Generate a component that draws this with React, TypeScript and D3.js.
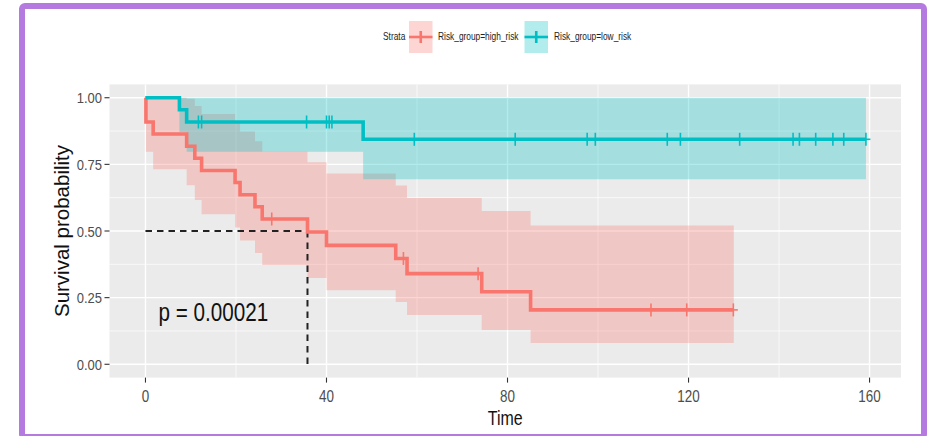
import React from "react";
import * as d3 from "d3";

const W = 935;
const H = 436;

// high risk group: step start times, KM estimate, 95% band
const HIGH_TIME = [0, 0.1, 1.7, 9.1, 10.9, 12.4, 19.8, 20.9, 24.2, 25.8, 35.8, 40.0, 55.3, 57.8, 74.3, 85.1];
const HIGH_SURV = [1, 0.909, 0.864, 0.818, 0.773, 0.727, 0.682, 0.636, 0.591, 0.545, 0.496, 0.446, 0.397, 0.34, 0.272, 0.204];
const HIGH_UPPER = [1, 1, 1, 0.996, 0.969, 0.939, 0.907, 0.873, 0.837, 0.798, 0.758, 0.716, 0.671, 0.624, 0.575, 0.521];
const HIGH_LOWER = [1, 0.797, 0.732, 0.672, 0.616, 0.563, 0.513, 0.464, 0.417, 0.372, 0.324, 0.278, 0.234, 0.185, 0.129, 0.08];
const HIGH_END = 130;
const HIGH_CENSOR = [27.9, 57.0, 73.5, 111.7, 119.6, 129.9];

// low risk group
const LOW_TIME = [0, 7.5, 9.1, 48.1];
const LOW_SURV = [1, 0.955, 0.909, 0.844];
const LOW_UPPER = [1, 1, 1, 1];
const LOW_LOWER = [1, 0.871, 0.797, 0.694];
const LOW_END = 159.2;
const LOW_CENSOR = [11.7, 12.4, 35.6, 40.0, 40.6, 41.2, 59.4, 81.7, 97.6, 99.4, 115.3, 118.2, 131.3, 143.1, 144.5, 148.1, 151.9, 154.3, 159.2];

const X_TICKS = [0, 40, 80, 120, 160];
const X_MINOR = [20, 60, 100, 140];
const Y_TICKS = [0, 0.25, 0.5, 0.75, 1];
const Y_MINOR = [0.125, 0.375, 0.625, 0.875];
const MEDIAN_HIGH = 35.8;
const P_LABEL = "p = 0.00021";
const STRATA = ["Risk_group=high_risk", "Risk_group=low_risk"];
const COLORS = ["#F8766D", "#00BFC4"];

const SANS = "'Liberation Sans', Arial, sans-serif";

const panel = { left: 109.5, right: 901, top: 84.4, bottom: 377.6 };

const x = d3.scaleLinear().domain([-7.95, 166.95]).range([panel.left, panel.right]);
const y = d3.scaleLinear().domain([-0.05, 1.05]).range([panel.bottom, panel.top]);

type Step = { t: number; s: number; lo: number; hi: number };

function buildSteps(times: number[], surv: number[], lo: number[], hi: number[], end: number): Step[] {
  const steps = times.map((t, i) => ({ t, s: surv[i], lo: lo[i], hi: hi[i] }));
  const last = steps[steps.length - 1];
  steps.push({ ...last, t: end });
  return steps;
}

function survAt(steps: Step[], t: number) {
  let s = steps[0].s;
  for (const st of steps) if (st.t <= t) s = st.s;
  return s;
}

const groups = [
  { steps: buildSteps(HIGH_TIME, HIGH_SURV, HIGH_LOWER, HIGH_UPPER, HIGH_END), censor: HIGH_CENSOR, color: COLORS[0] },
  { steps: buildSteps(LOW_TIME, LOW_SURV, LOW_LOWER, LOW_UPPER, LOW_END), censor: LOW_CENSOR, color: COLORS[1] },
];

const area = d3
  .area<Step>()
  .x((d) => x(d.t))
  .y0((d) => y(d.lo))
  .y1((d) => y(d.hi))
  .curve(d3.curveStepAfter);

const line = d3
  .line<Step>()
  .x((d) => x(d.t))
  .y((d) => y(d.s))
  .curve(d3.curveStepAfter);

function Cross({ cx, cy, color, w = 4.5, h = 6.5, sw = 1.6 }) {
  return (
    <g stroke={color} strokeWidth={sw}>
      <line x1={cx - w} x2={cx + w} y1={cy} y2={cy} />
      <line x1={cx} x2={cx} y1={cy - h} y2={cy + h} />
    </g>
  );
}

// the source image is squashed sideways, so text gets a horizontal squeeze
function Txt({ x: tx, y: ty, k = 0.8, size, anchor = "start", fill = "#111", children }) {
  return (
    <text
      transform={`translate(${tx},${ty}) scale(${k},1)`}
      textAnchor={anchor}
      fontFamily={SANS}
      fontSize={size}
      fill={fill}
    >
      {children}
    </text>
  );
}

export default function App() {
  const legendItems = [
    { box: 409, text: 438, label: STRATA[0], color: COLORS[0] },
    { box: 524.5, text: 554, label: STRATA[1], color: COLORS[1] },
  ];

  return (
    <svg width={W} height={H} style={{ position: "absolute", left: 0, top: 0, background: "#fff" }}>
      <rect x={22} y={6} width={902} height={431} rx={3} fill="#fff" stroke="#b47ae0" strokeWidth={6} />

      {/* legend */}
      <Txt x={383} y={40} k={0.82} size={10.2} fill="#222">
        Strata
      </Txt>
      {legendItems.map((d) => (
        <g key={d.label}>
          <rect x={d.box} y={21} width={23.5} height={32} fill={d.color} fillOpacity={0.3} />
          <Cross cx={d.box + 11.75} cy={37} color={d.color} w={11.75} h={6} sw={2.6} />
          <Txt x={d.text} y={40} k={0.82} size={10.2} fill="#222">
            {d.label}
          </Txt>
        </g>
      ))}

      {/* panel */}
      <rect x={panel.left} y={panel.top} width={panel.right - panel.left} height={panel.bottom - panel.top} fill="#EBEBEB" />
      {Y_MINOR.map((v) => (
        <line key={"ym" + v} x1={panel.left} x2={panel.right} y1={y(v)} y2={y(v)} stroke="#fff" strokeWidth={0.7} />
      ))}
      {X_MINOR.map((v) => (
        <line key={"xm" + v} x1={x(v)} x2={x(v)} y1={panel.top} y2={panel.bottom} stroke="#fff" strokeWidth={0.7} />
      ))}
      {Y_TICKS.map((v) => (
        <line key={"yg" + v} x1={panel.left} x2={panel.right} y1={y(v)} y2={y(v)} stroke="#fff" strokeWidth={1.4} />
      ))}
      {X_TICKS.map((v) => (
        <line key={"xg" + v} x1={x(v)} x2={x(v)} y1={panel.top} y2={panel.bottom} stroke="#fff" strokeWidth={1.4} />
      ))}

      {groups.map((g, i) => (
        <path key={"band" + i} d={area(g.steps) || ""} fill={g.color} fillOpacity={0.3} />
      ))}

      {/* median line */}
      <g stroke="#222" strokeWidth={2} strokeDasharray="6.5,5" fill="none">
        <line x1={x(0)} x2={x(MEDIAN_HIGH)} y1={y(0.5)} y2={y(0.5)} />
        <line x1={x(MEDIAN_HIGH)} x2={x(MEDIAN_HIGH)} y1={y(0.5)} y2={y(0)} />
      </g>

      {groups.map((g, i) => (
        <g key={"curve" + i}>
          <path d={line(g.steps) || ""} fill="none" stroke={g.color} strokeWidth={3.6} />
          {g.censor.map((t, j) => (
            <Cross key={j} cx={x(t)} cy={y(survAt(g.steps, t))} color={g.color} />
          ))}
        </g>
      ))}

      <Txt x={158.5} y={320.5} k={0.78} size={26.5}>
        {P_LABEL}
      </Txt>

      {/* axes */}
      {Y_TICKS.map((v) => (
        <g key={"yt" + v}>
          <line x1={panel.left - 5} x2={panel.left} y1={y(v)} y2={y(v)} stroke="#333" strokeWidth={1.1} />
          <Txt x={102} y={y(v) + 5.6} k={0.84} size={15.5} anchor="end" fill="#4D4D4D">
            {v.toFixed(2)}
          </Txt>
        </g>
      ))}
      {X_TICKS.map((v) => (
        <g key={"xt" + v}>
          <line x1={x(v)} x2={x(v)} y1={panel.bottom} y2={panel.bottom + 5} stroke="#333" strokeWidth={1.1} />
          <Txt x={x(v)} y={401.5} k={0.84} size={16} anchor="middle" fill="#4D4D4D">
            {v}
          </Txt>
        </g>
      ))}
      <Txt x={(panel.left + panel.right) / 2} y={425} k={0.76} size={21} anchor="middle">
        Time
      </Txt>
      <text
        transform={`translate(68.5, ${(panel.top + panel.bottom) / 2}) rotate(-90)`}
        textAnchor="middle"
        fontFamily={SANS}
        fontSize={20.5}
        fill="#111"
      >
        Survival probability
      </text>
    </svg>
  );
}
